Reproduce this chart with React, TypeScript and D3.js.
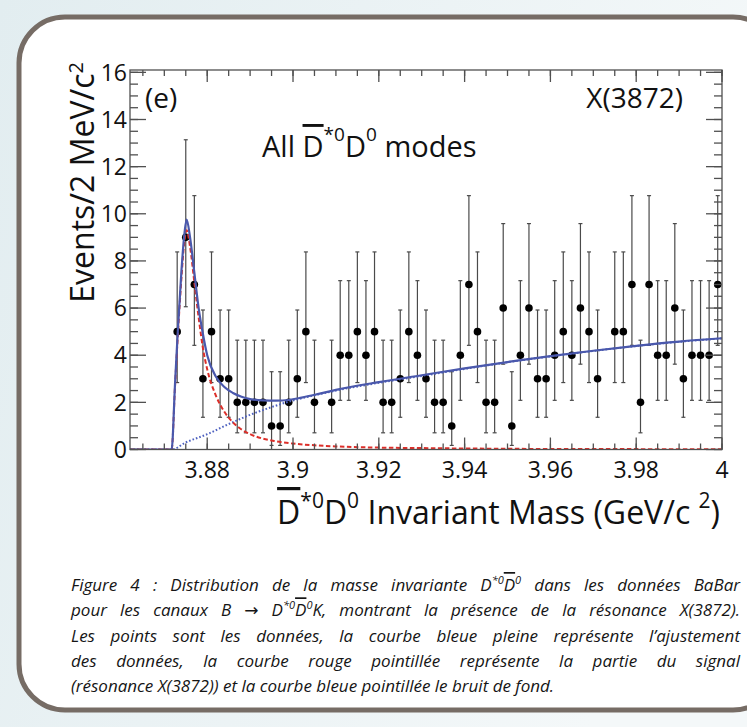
import React, { useLayoutEffect, useRef } from 'react';
import * as d3 from 'd3';

const W = 747;
const H = 727;

// x axis: D*0 D0 invariant mass (GeV/c^2)
const xMin = 3.862;
const xMax = 4.0;
const yMin = 0;
const yMax = 16.1;

// histogram: 2 MeV bins, first filled bin starts at 3.872
const binStart = 3.872;
const binWidth = 0.002;
const counts = [
  5, 9, 7, 3, 5, 3, 3, 2, 2, 2, 2, 1, 1, 2, 3, 5, 2, 0, 2, 4, 4, 5, 4, 5, 2, 2,
  3, 5, 4, 3, 2, 2, 1, 4, 7, 5, 2, 2, 6, 1, 4, 6, 3, 3, 4, 5, 4, 6, 5, 3, 0, 5,
  5, 7, 2, 7, 4, 4, 6, 3, 4, 4, 4, 7,
];

// 68% Poisson interval bounds indexed by count
const poissonLow = [0, 0.173, 0.708, 1.367, 2.086, 2.84, 3.62, 4.419, 5.232, 6.057];
const poissonHigh = [1.841, 3.3, 4.638, 5.918, 7.163, 8.382, 9.584, 10.77, 11.95, 13.14];

// fit curves: [mass, events]
const totalFit: [number, number][] = [
  [3.862, 0], [3.8717, 0], [3.8725, 2.8], [3.8732, 5.2], [3.874, 7.6], [3.8746, 9.0],
  [3.8752, 9.75], [3.876, 9.0], [3.877, 7.5], [3.878, 6.0], [3.879, 4.9], [3.88, 4.0],
  [3.882, 3.1], [3.884, 2.65], [3.886, 2.4], [3.888, 2.24], [3.89, 2.14], [3.893, 2.08],
  [3.896, 2.07], [3.899, 2.1], [3.902, 2.2], [3.906, 2.36], [3.91, 2.53], [3.92, 2.86],
  [3.93, 3.15], [3.94, 3.44], [3.95, 3.71], [3.96, 3.96], [3.97, 4.19], [3.98, 4.4],
  [3.99, 4.58], [4.0, 4.72],
];
const signalFit: [number, number][] = [
  [3.862, 0], [3.8717, 0], [3.8725, 2.7], [3.8732, 5.0], [3.874, 7.3], [3.8746, 8.7],
  [3.8752, 9.3], [3.876, 8.6], [3.877, 7.1], [3.878, 5.6], [3.879, 4.3], [3.88, 3.4],
  [3.882, 2.3], [3.884, 1.6], [3.886, 1.15], [3.888, 0.85], [3.89, 0.65], [3.893, 0.46],
  [3.896, 0.35], [3.9, 0.25], [3.905, 0.18], [3.91, 0.13], [3.92, 0.08], [3.93, 0.06],
  [3.95, 0.03], [3.97, 0.02], [4.0, 0.01],
];
const backgroundFit: [number, number][] = [
  [3.862, 0], [3.8717, 0], [3.875, 0.3], [3.88, 0.65], [3.885, 1.08], [3.89, 1.47],
  [3.895, 1.8], [3.9, 2.08], [3.905, 2.3], [3.91, 2.5], [3.92, 2.83], [3.93, 3.12],
  [3.94, 3.42], [3.95, 3.7], [3.96, 3.95], [3.97, 4.18], [3.98, 4.39], [3.99, 4.57],
  [4.0, 4.71],
];

const xMajorTicks = [3.88, 3.9, 3.92, 3.94, 3.96, 3.98, 4.0];
const xTickLabels = ['3.88', '3.9', '3.92', '3.94', '3.96', '3.98', '4'];
const yMajorTicks = [0, 2, 4, 6, 8, 10, 12, 14, 16];
const yTickLabels = ['0', '2', '4', '6', '8', '10', '12', '14', '16'];

const captionLines = [
  'Figure 4 : Distribution de la masse invariante',
  'pour les canaux B → ',
  "Les points sont les données, la courbe bleue pleine représente l’ajustement",
  'des données, la courbe rouge pointillée représente la partie du signal',
  '(résonance X(3872)) et la courbe bleue pointillée le bruit de fond.',
];

const FONT = "'Open Sans', 'DejaVu Sans', sans-serif";
const CAP_SIZE = 17;
const SUP_SIZE = 11;

export default function App() {
  const L = 130, R = 722, T = 70, B = 449.5;
  const x = d3.scaleLinear().domain([xMin, xMax]).range([L, R]);
  const y = d3.scaleLinear().domain([yMin, yMax]).range([B, T]);

  const xMinor = x.ticks(28);
  const yMinor = y.ticks(32);

  const line = d3
    .line<[number, number]>()
    .x((d) => x(d[0]))
    .y((d) => y(d[1]))
    .curve(d3.curveMonotoneX);

  const points = counts.map((c, i) => ({ m: binStart + binWidth * (i + 0.5), c }));

  const axisColor = '#505050';
  const capX = 71, capR = 740;
  const capY0 = 591, capDy = 25.3;

  const capRef = useRef<SVGGElement>(null);
  useLayoutEffect(() => {
    const g = capRef.current;
    if (!g) return;
    g.querySelectorAll('text.just').forEach((el) => {
      const t = el as SVGTextElement;
      t.style.wordSpacing = '0px';
      const len = t.getComputedTextLength();
      const spaces = (t.textContent || '').split(' ').length - 1;
      if (spaces > 0) {
        const extra = (capR - capX - len) / spaces;
        t.style.wordSpacing = extra + 'px';
      }
    });
  });

  const capStyle = { fontFamily: FONT, fontStyle: 'italic' as const, fontSize: CAP_SIZE + 'px', fill: '#151515' };

  return (
    <svg width={W} height={H} style={{ position: 'absolute', left: 0, top: 0 }} xmlns="http://www.w3.org/2000/svg">
      <defs>
        <linearGradient id="bg" x1="0" y1="0" x2="1" y2="0.3">
          <stop offset="0" stopColor="#e2edf0" />
          <stop offset="1" stopColor="#f4f8f9" />
        </linearGradient>
        <clipPath id="plotClip">
          <rect x={L} y={T} width={R - L} height={B - T} />
        </clipPath>
      </defs>
      <rect x={0} y={0} width={W} height={H} fill="url(#bg)" />
      <rect x={19} y={17} width={760} height={693} rx={46} ry={46} fill="#ffffff" stroke="#766c65" strokeWidth={5} />

      {/* error bars and points */}
      <g>
        {points
          .filter((p) => p.c > 0)
          .map((p, i) => {
            const cx = x(p.m);
            const y1 = y(poissonLow[p.c]);
            const y2 = y(poissonHigh[p.c]);
            return (
              <g key={i}>
                <line x1={cx} x2={cx} y1={y1} y2={y2} stroke="#4a4a4a" strokeWidth={1.2} />
                <line x1={cx - 2} x2={cx + 2} y1={y1} y2={y1} stroke="#4a4a4a" strokeWidth={1.2} />
                <line x1={cx - 2} x2={cx + 2} y1={y2} y2={y2} stroke="#4a4a4a" strokeWidth={1.2} />
                <circle cx={cx} cy={y(p.c)} r={3.8} fill="#000" />
              </g>
            );
          })}
      </g>

      {/* fit curves */}
      <g clipPath="url(#plotClip)" fill="none">
        <path d={line(backgroundFit) || ''} stroke="#4f62c0" strokeWidth={2} strokeDasharray="1.6 2" />
        <path d={line(signalFit) || ''} stroke="#dc2f2a" strokeWidth={2} strokeDasharray="4.5 2.5" />
        <path d={line(totalFit) || ''} stroke="#4a58ac" strokeWidth={2.2} />
      </g>

      {/* frame and ticks */}
      <g stroke={axisColor} strokeWidth={1.3}>
        <rect x={L} y={T} width={R - L} height={B - T} fill="none" />
        {xMinor.map((t, i) => (
          <g key={'xm' + i}>
            <line x1={x(t)} x2={x(t)} y1={B} y2={B - 6} />
            <line x1={x(t)} x2={x(t)} y1={T} y2={T + 6} />
          </g>
        ))}
        {xMajorTicks.map((t, i) => (
          <g key={'xM' + i}>
            <line x1={x(t)} x2={x(t)} y1={B} y2={B - 12} />
            <line x1={x(t)} x2={x(t)} y1={T} y2={T + 12} />
          </g>
        ))}
        {yMinor.map((t, i) => (
          <g key={'ym' + i}>
            <line x1={L} x2={L + 8} y1={y(t)} y2={y(t)} />
            <line x1={R} x2={R - 8} y1={y(t)} y2={y(t)} />
          </g>
        ))}
        {yMajorTicks.map((t, i) => (
          <g key={'yM' + i}>
            <line x1={L} x2={L + 16} y1={y(t)} y2={y(t)} />
            <line x1={R} x2={R - 16} y1={y(t)} y2={y(t)} />
          </g>
        ))}
      </g>

      {/* tick labels */}
      <g fontFamily={FONT} fontSize={23} fill="#111">
        {xMajorTicks.map((t, i) => (
          <text key={'xl' + i} x={x(t)} y={478} textAnchor="middle">
            {xTickLabels[i]}
          </text>
        ))}
        {yMajorTicks.map((t, i) => (
          <text key={'yl' + i} x={127} y={y(t)} dy="0.36em" textAnchor="end">
            {yTickLabels[i]}
          </text>
        ))}
      </g>

      {/* y title */}
      <text
        transform="translate(94, 62) rotate(-90)"
        textAnchor="end"
        fontFamily={FONT}
        fontSize={32}
        fill="#111"
      >
        Events/2 MeV/c
        <tspan fontSize={20} baselineShift="55%">2</tspan>
      </text>

      {/* x title */}
      <text x={720} y={524} textAnchor="end" fontFamily={FONT} fontSize={32} fill="#111">
        <tspan style={{ textDecoration: 'overline' }}>D</tspan>
        <tspan fontSize={21} baselineShift="75%">*0</tspan>
        <tspan>D</tspan>
        <tspan fontSize={21} baselineShift="75%">0</tspan>
        <tspan> Invariant Mass (GeV/c </tspan>
        <tspan fontSize={21} baselineShift="75%">2</tspan>
        <tspan>)</tspan>
      </text>

      {/* in-plot labels */}
      <text x={145} y={108} fontFamily={FONT} fontSize={28} fill="#111">(e)</text>
      <text x={683} y={108} textAnchor="end" fontFamily={FONT} fontSize={28} fill="#111">X(3872)</text>
      <text x={262} y={157} fontFamily={FONT} fontSize={29} fill="#111">
        All{'  '}
        <tspan style={{ textDecoration: 'overline' }}>D</tspan>
        <tspan fontSize={19} baselineShift="85%">*0</tspan>
        <tspan>D</tspan>
        <tspan fontSize={19} baselineShift="85%">0</tspan>
        <tspan> modes</tspan>
      </text>

      {/* caption */}
      <g ref={capRef}>
        <text className="just" x={capX} y={capY0} style={capStyle}>
          {captionLines[0]} D
          <tspan style={{ fontSize: SUP_SIZE + 'px' }} baselineShift="60%">*0</tspan>
          <tspan style={{ textDecoration: 'overline' }}>D</tspan>
          <tspan style={{ fontSize: SUP_SIZE + 'px' }} baselineShift="60%">0</tspan>
          <tspan> dans les données BaBar</tspan>
        </text>
        <text className="just" x={capX} y={capY0 + capDy} style={capStyle}>
          {captionLines[1]}D
          <tspan style={{ fontSize: SUP_SIZE + 'px' }} baselineShift="60%">*0</tspan>
          <tspan style={{ textDecoration: 'overline' }}>D</tspan>
          <tspan style={{ fontSize: SUP_SIZE + 'px' }} baselineShift="60%">0</tspan>
          <tspan>K, montrant la présence de la résonance X(3872).</tspan>
        </text>
        {captionLines.slice(2).map((s, i) => (
          <text key={'cap' + i} className={i < 2 ? 'just' : ''} x={capX} y={capY0 + capDy * (i + 2)} style={capStyle}>
            {s}
          </text>
        ))}
      </g>
    </svg>
  );
}
